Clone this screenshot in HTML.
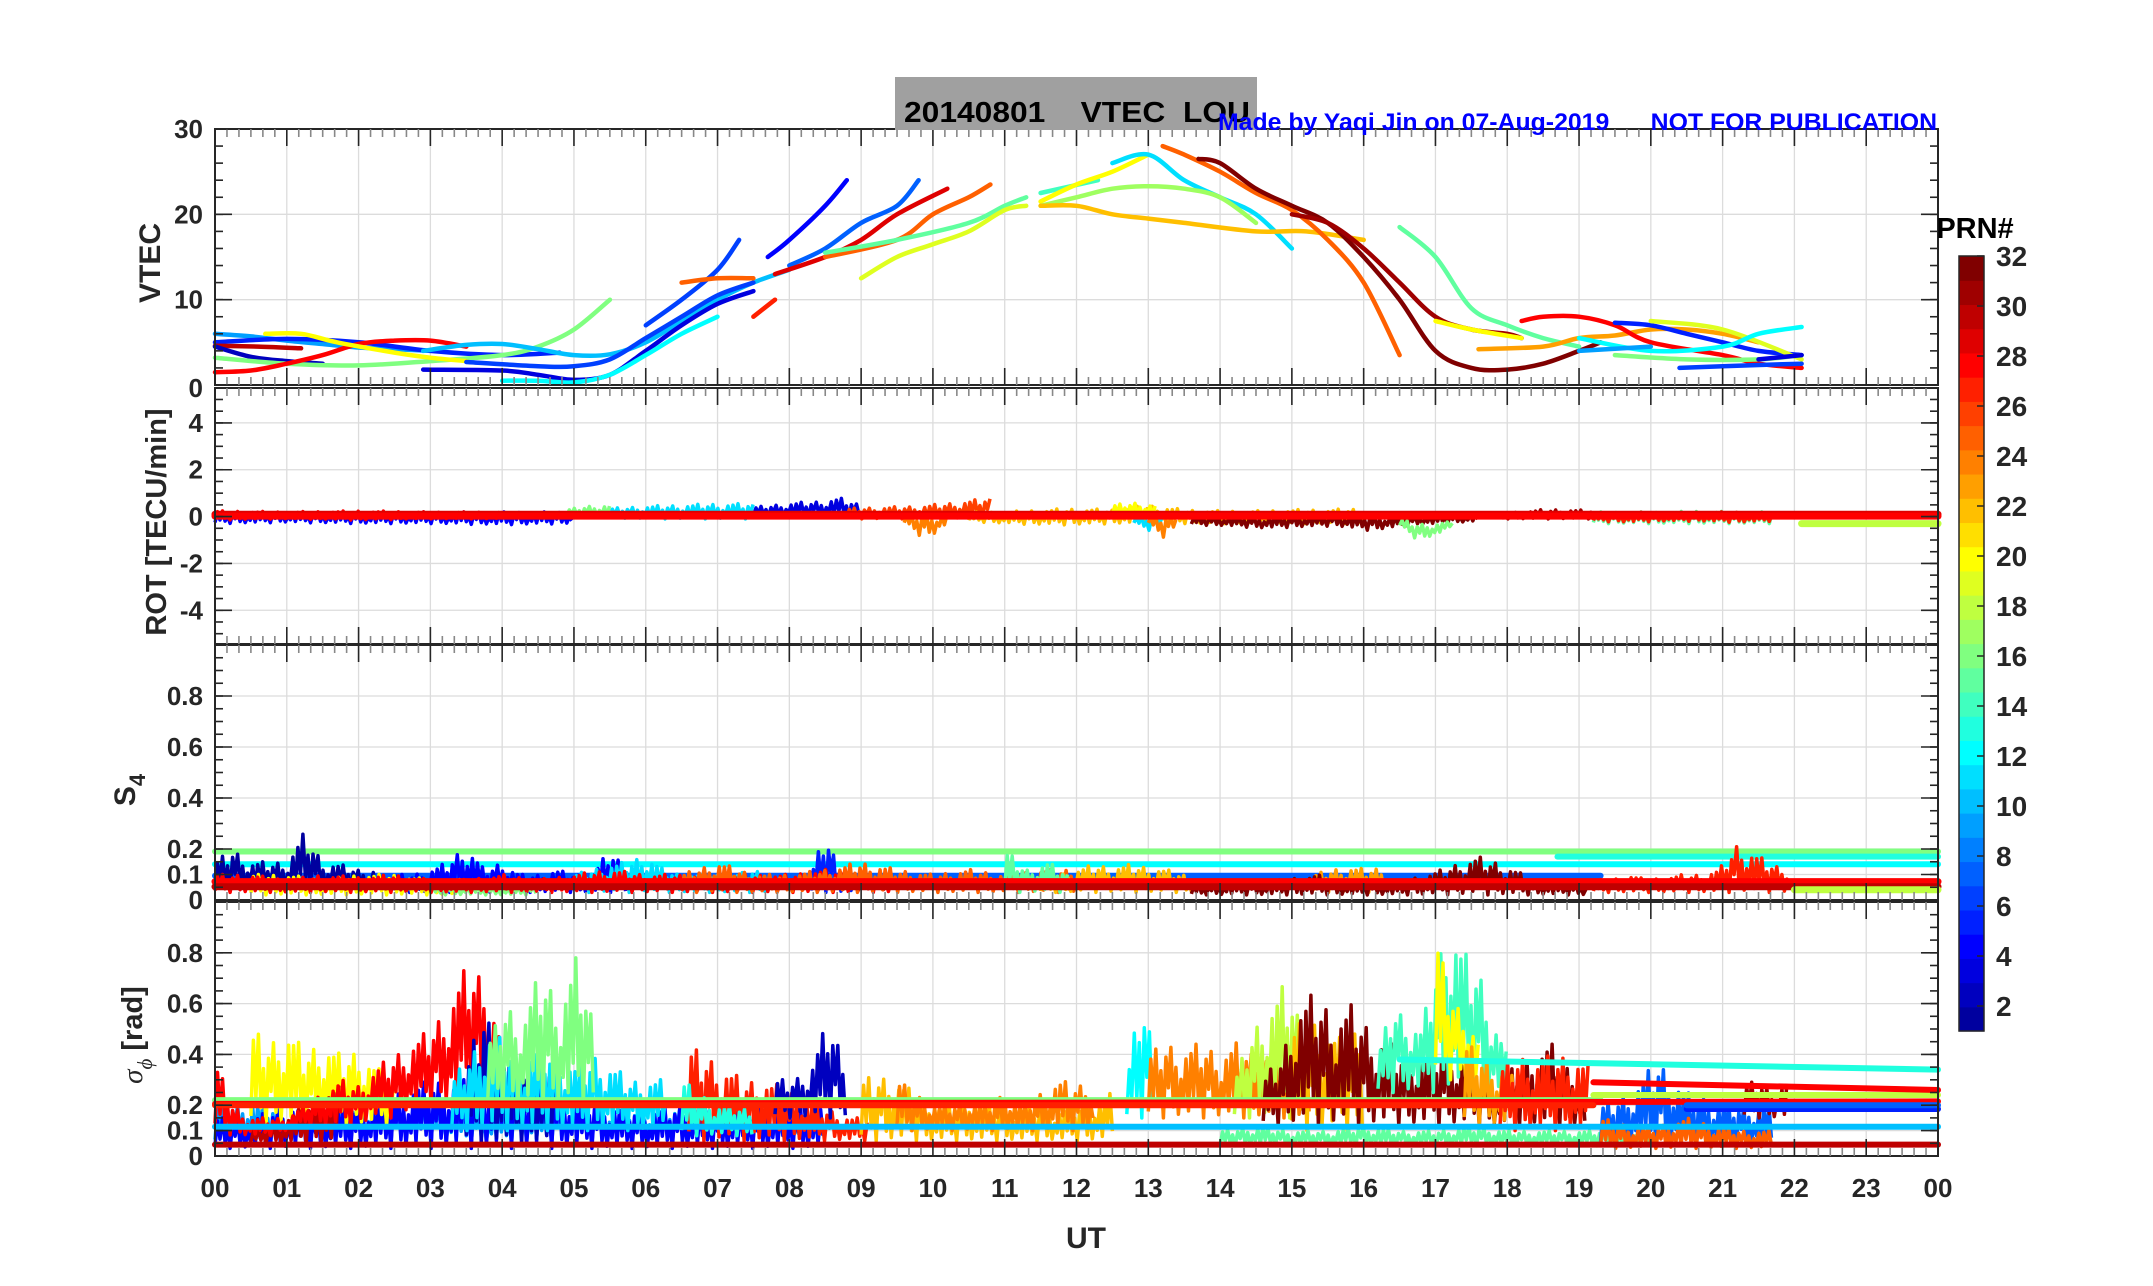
<!DOCTYPE html>
<html><head><meta charset="utf-8"><title>VTEC LOU 20140801</title>
<style>
html,body{margin:0;padding:0;background:#fff;}
svg{display:block;font-family:"Liberation Sans",Arial,sans-serif;}
</style></head>
<body>
<svg id="fig" width="2153" height="1286" viewBox="0 0 2153 1286" xmlns="http://www.w3.org/2000/svg">
<rect x="0" y="0" width="2153" height="1286" fill="#fff"/>
<g id="grid"></g>
<g id="series"></g>
<g id="axes"></g>
<rect x="895" y="77" width="362" height="53" fill="#a0a0a0"/>
<text x="904" y="122" font-size="29" font-weight="bold" fill="#000" textLength="346" lengthAdjust="spacingAndGlyphs" xml:space="preserve">20140801    VTEC  LOU</text>
<text x="1218" y="130" font-size="24" font-weight="bold" fill="#0000ff" textLength="719" lengthAdjust="spacingAndGlyphs" xml:space="preserve">Made by Yaqi Jin on 07-Aug-2019      NOT FOR PUBLICATION</text>
<text transform="translate(160,263) rotate(-90)" text-anchor="middle" font-size="30" font-weight="bold" fill="#262626">VTEC</text>
<text transform="translate(166,522) rotate(-90)" text-anchor="middle" font-size="29" font-weight="bold" fill="#262626">ROT [TECU/min]</text>
<text transform="translate(135,790) rotate(-90)" text-anchor="middle" font-size="30" font-weight="bold" fill="#262626">S<tspan font-size="22" dy="10">4</tspan></text>
<text transform="translate(142,1035) rotate(-90)" text-anchor="middle" font-size="29" font-weight="bold" fill="#262626"><tspan font-family="Liberation Serif,serif" font-style="italic" font-weight="normal">σ</tspan><tspan font-family="Liberation Serif,serif" font-style="italic" font-weight="normal" font-size="21" dy="10">ϕ</tspan><tspan dy="-10"> [rad]</tspan></text>
<text x="1086" y="1248" text-anchor="middle" font-size="30" font-weight="bold" fill="#262626">UT</text>
<text x="1975" y="238" text-anchor="middle" font-size="29" font-weight="bold" fill="#000">PRN#</text>
<g id="cbar"></g>
</svg>
<script>
// ---------- data ----------
const hourLabels = ["00","01","02","03","04","05","06","07","08","09","10","11","12","13","14","15","16","17","18","19","20","21","22","23","00"];
const vtecTicks = [0,10,20,30];
const rotTicks = [-4,-2,0,2,4];
const s4Ticks = [0,0.1,0.2,0.4,0.6,0.8];
const s4TickLabels = ["0","0.1","0.2","0.4","0.6","0.8"];
const prnTicks = [2,4,6,8,10,12,14,16,18,20,22,24,26,28,30,32];

// VTEC tracks: PRN, times (h), values (TECU)
const vtecPRN = [9,5,30,2,16,28,20,10,6,3,12,6,25,27,4,7,29,25,15,19,14,20,11,17,22,25,32,31,15,20,23,28,5,19,12,16,6,3,9];
const vtecT = [
 [0,0.5,1,1.5,2,2.5,3],
 [0,1,2,3,4,4.8],
 [0,0.6,1.2],
 [0,0.5,1,1.5],
 [0,1,2,3,4,4.5,5,5.5],
 [0,0.5,1,1.5,2,2.5,3,3.5],
 [0.7,1.2,1.7,2.5,3,3.5],
 [2.9,3.5,4,4.5,5,5.5,6,6.5,7,7.5,8],
 [3.5,4.5,5,5.5,6,6.5,7,7.5],
 [2.9,4,4.5,5,5.5,6,6.5,7,7.5],
 [4,4.5,5,5.5,6,6.5,7],
 [6,6.5,7,7.3],
 [6.5,7,7.5],
 [7.5,7.8],
 [7.7,8,8.5,8.8],
 [8,8.5,9,9.5,9.8],
 [7.8,8.5,9,9.5,10.2],
 [8.5,9.5,10,10.5,10.8],
 [8.5,9.5,10.5,11,11.3],
 [9,9.5,10,10.5,11,11.3],
 [11.5,12.3],
 [11.5,12,12.5,13],
 [12.5,13,13.5,14,14.5,15],
 [11.5,12,12.5,13,13.5,14,14.5],
 [11.5,12,12.5,13,13.5,14.5,15.2,16],
 [13.2,13.5,14,14.5,15,15.5,16,16.5],
 [13.7,14,14.5,15,15.5,16,16.5,17,17.5,18,18.5,19,19.3],
 [15,15.5,16,16.5,17,17.5,18,18.2],
 [16.5,17,17.5,18,18.5,19],
 [17,17.5,18.2],
 [17.6,18.5,19,19.5,20,20.5,21,21.5],
 [18.2,18.5,19,19.5,20,21,21.5,22.1],
 [19.5,20,20.5,21,21.5,22.1],
 [20,21,22.1],
 [19,20,21,21.5,22.1],
 [19.5,20.5,21.5,22.1],
 [20.4,21,22.1],
 [21.5,22.1],
 [19,20]
];
const vtecV = [
 [6,5.7,5.2,4.8,4.4,4.2,4],
 [5,5.4,5,4,3.5,3.8],
 [4.6,4.5,4.3],
 [4.5,3.3,2.8,2.5],
 [3.2,2.5,2.3,2.8,3.5,4.5,6.5,10],
 [1.5,1.7,2.5,3.5,4.8,5.2,5.2,4.5],
 [6,6,5,3.8,3.2,2.8],
 [4,4.7,4.8,4.2,3.5,3.6,5,7.5,10,12,13.5],
 [2.7,2.2,2.2,3,5.5,8,10.5,12],
 [1.8,1.7,1.2,0.6,1.2,4,7,9.5,11],
 [0.5,0.5,0.3,1.2,3.5,6,8],
 [7,10,13.5,17],
 [12,12.5,12.5],
 [8,10],
 [15,17,21,24],
 [14,16,19,21,24],
 [13,15,17,20,23],
 [15,17,20,22,23.5],
 [15.5,17,19,21,22],
 [12.5,15,16.5,18,20.5,21],
 [22.5,24],
 [21.5,23.5,25,27],
 [26,27,24,22,20,16],
 [21,22,23,23.3,23,22,19],
 [21,21,20,19.5,19,18,18,17],
 [28,27,25,22.5,20.5,17,12,3.5],
 [26.5,26,23,21,19,15,10,4,2,1.8,2.5,4,5],
 [20,19,16,12,8,6.5,6,5.5],
 [18.5,15,9,7,5.5,4.5],
 [7.5,6.5,5.5],
 [4.2,4.5,5.5,5.8,6.5,6.5,6,5],
 [7.5,8,8,7,5,3.5,2.5,2],
 [7.3,7,6,5,4,3.5],
 [7.5,6.5,3],
 [5.5,4,4.5,6,6.8],
 [3.5,3,3,3.5],
 [2,2.2,2.5],
 [3,3.5],
 [4,4.5]
];

// ROT noisy envelopes: PRN, start time, step, upper & lower values
const rotPRN = [4,28,16,11,3,26,24,22,20,11,24,32,16,31,15,27];
const rotT0 = [0,0,4.9,5.5,7.5,8.8,9.6,10.5,12.5,12.8,13,13.6,16.5,17.8,19.2,19.2];
const rotDt = [1,1,0.3,0.5,0.3,0.5,0.2,0.5,0.3,0.2,0.2,0.5,0.25,0.35,0.5,0.5];
const rotHi = [
 [0.2,0.2,0.2,0.2,0.2,0.2],[0.25,0.2,0.25,0.2,0.2],[0.3,0.45,0.5],[0.35,0.45,0.5,0.55,0.55],
 [0.4,0.5,0.6,0.65,0.8,0.5],[0.35,0.4,0.45,0.6,0.8],[0.1,0.1,0.1,0.1],
 [0.2,0.2,0.3,0.35,0.3,0.5,0.3,0.25,0.25,0.3,0.3,0.35],[0.5,0.6,0.5],[0,0,0],[0,0,0],
 [0,0,0,0.05,0.1,0.05,0.05,0.1,0.1],[-0.1,-0.3,-0.3,-0.2],[0.1,0.2,0.3,0.3,0.25],
 [0.2,0.2,0.2,0.25,0.2,0.2],[0.15,0.2,0.15,0.2,0.2,0.15]
];
const rotLo = [
 [-0.3,-0.25,-0.3,-0.3,-0.35,-0.3],[-0.15,-0.1,-0.15,-0.1,-0.1],[0,0,0],[-0.05,-0.1,-0.1,-0.1,-0.1],
 [0,0,0,0,0,0],[-0.1,-0.1,-0.1,-0.1,0],[-0.3,-0.8,-0.8,-0.3],
 [-0.2,-0.3,-0.35,-0.35,-0.3,-0.3,-0.3,-0.3,-0.3,-0.3,-0.3,-0.3],[0,0,0],[-0.3,-0.6,-0.3],[-0.3,-0.9,-0.4],
 [-0.35,-0.4,-0.5,-0.45,-0.4,-0.6,-0.4,-0.3,-0.2],[-0.4,-1.0,-0.8,-0.4],[-0.1,-0.1,-0.1,-0.1,-0.1],
 [-0.3,-0.3,-0.3,-0.3,-0.3,-0.3],[-0.2,-0.25,-0.2,-0.2,-0.25,-0.2]
];
const rotLinePRN = [18,29,28];
const rotLineT = [[22.1,24],[0,24],[0,24]];
const rotLineV = [[-0.3,-0.3],[0.1,0.1],[0.02,0.02]];

// S4 noisy envelopes
const s4PRN = [1,4,11,5,20,16,28,25,22,15,23,32,27];
const s4T0 = [0,2.5,5,8.3,0.5,3,0,6.5,11.5,11,15.3,13.6,19.2];
const s4Dt = [0.25,0.25,0.25,0.2,0.5,0.5,0.5,0.5,0.25,0.3,0.25,0.25,0.25];
const s4Hi = [
 [0.15,0.2,0.15,0.15,0.15,0.27,0.15,0.14,0.12,0.12],
 [0.1,0.1,0.12,0.15,0.22,0.12,0.15,0.1,0.1,0.12,0.1,0.1,0.2,0.12],
 [0.1,0.12,0.14,0.15,0.18,0.12,0.1,0.1,0.1,0.1,0.12,0.1],
 [0.1,0.27,0.12,0.1],
 [0.1,0.1,0.08,0.1,0.1,0.08,0.08],
 [0.06,0.06,0.05,0.06],
 [0.1,0.1,0.08,0.1,0.09,0.1,0.08,0.08,0.1,0.08,0.1,0.12,0.1,0.1,0.1,0.1,0.1,0.12,0.1,0.1],
 [0.1,0.15,0.1,0.1,0.12,0.15,0.12,0.1,0.12,0.1,0.12,0.12],
 [0.08,0.1,0.12,0.14,0.13,0.14,0.13,0.12,0.1,0.08],
 [0.2,0.12,0.15,0.1],
 [0.1,0.12,0.13,0.12,0.13],
 [0.06,0.06,0.07,0.08,0.07,0.08,0.09,0.1,0.08,0.07,0.08,0.07,0.08,0.1,0.12,0.15,0.17,0.15,0.12,0.08,0.08,0.07,0.06],
 [0.08,0.08,0.1,0.08,0.09,0.1,0.1,0.12,0.22,0.18,0.14,0.12]
];
const s4Lo = [
 [0.04,0.04,0.04,0.04,0.04,0.04,0.04,0.04,0.04,0.04],
 [0.03,0.03,0.03,0.03,0.03,0.03,0.03,0.03,0.03,0.03,0.03,0.03,0.03,0.03],
 [0.03,0.03,0.03,0.03,0.03,0.03,0.03,0.03,0.03,0.03,0.03,0.03],
 [0.03,0.03,0.03,0.03],
 [0.02,0.02,0.02,0.02,0.02,0.02,0.02],
 [0.02,0.02,0.02,0.02],
 [0.03,0.03,0.03,0.03,0.03,0.03,0.03,0.03,0.03,0.03,0.03,0.03,0.03,0.03,0.03,0.03,0.03,0.03,0.03,0.03],
 [0.03,0.03,0.03,0.03,0.03,0.03,0.03,0.03,0.03,0.03,0.03,0.03],
 [0.03,0.03,0.03,0.03,0.03,0.03,0.03,0.03,0.03,0.03],
 [0.03,0.03,0.03,0.03],
 [0.03,0.03,0.03,0.03,0.03],
 [0.02,0.02,0.02,0.02,0.02,0.02,0.02,0.02,0.02,0.02,0.02,0.02,0.02,0.02,0.02,0.02,0.02,0.02,0.02,0.02,0.02,0.02,0.02],
 [0.03,0.03,0.03,0.03,0.03,0.03,0.03,0.03,0.03,0.03,0.03,0.03]
];
const s4LinePRN = [16,12,13,7,28,30,18];
const s4LineT = [[0,24],[0,24],[18.7,24],[0,19.3],[0,24],[0,24],[22,24]];
const s4LineV = [[0.19,0.19],[0.14,0.14],[0.17,0.17],[0.095,0.095],[0.072,0.072],[0.052,0.052],[0.04,0.04]];

// sigma-phi noisy envelopes
const sgPRN = [9,4,20,30,28,2,11,16,27,2,13,22,24,12,24,18,22,32,14,20,23,27,15,7,25,31];
const sgT0 = [0,0,0.5,0.5,0,3.5,3.3,3.8,6.6,7.8,6.5,9,9.5,12.7,13,14.2,15,14.6,16.2,17,17.4,17.9,14,19.3,19.3,21.3];
const sgDt = [0.5,0.5,0.25,0.25,0.25,0.25,0.25,0.25,0.25,0.25,0.25,0.25,0.25,0.2,0.25,0.25,0.25,0.25,0.2,0.15,0.25,0.25,0.5,0.4,0.4,0.2];
const sgHi = [
 [0.2,0.22,0.18,0.2,0.2,0.22,0.25,0.2,0.2,0.22,0.2,0.2,0.18,0.2,0.2,0.18,0.15,0.15],
 [0.15,0.15,0.2,0.18,0.2,0.25,0.3,0.3,0.35,0.3,0.25,0.2,0.18,0.2,0.2,0.2,0.2,0.2],
 [0.5,0.45,0.5,0.42,0.45,0.4,0.42,0.35,0.3],
 [0.1,0.12,0.15,0.2,0.25,0.28],
 [0.38,0.2,0.15,0.15,0.15,0.2,0.25,0.3,0.28,0.35,0.4,0.45,0.5,0.6,0.75,0.72,0.45],
 [0.35,0.6,0.4,0.35,0.4,0.3],
 [0.3,0.4,0.5,0.45,0.4,0.45,0.4,0.35,0.4,0.35,0.3,0.3,0.3],
 [0.45,0.6,0.55,0.75,0.6,0.8,0.5],
 [0.43,0.4,0.35,0.3,0.3,0.28,0.25,0.2,0.18,0.15,0.15],
 [0.3,0.3,0.35,0.55,0.35],
 [0.3,0.25,0.2,0.2,0.18],
 [0.3,0.32,0.3,0.25,0.2,0.2,0.22,0.2,0.2,0.18,0.2,0.18,0.2,0.22,0.25],
 [0.3,0.25,0.2,0.2,0.22,0.2,0.25,0.2,0.25,0.3,0.28,0.3],
 [0.3,0.65,0.4],
 [0.4,0.45,0.42,0.45,0.4,0.45,0.4,0.42,0.45,0.4],
 [0.3,0.5,0.6,0.7,0.45],
 [0.5,0.55,0.5,0.45,0.55],
 [0.3,0.4,0.6,0.65,0.55,0.6,0.5,0.45,0.4,0.4,0.45,0.4,0.35,0.3,0.35,0.4,0.45,0.35,0.3],
 [0.4,0.6,0.55,0.5,0.75,0.95,0.8,0.75,0.55,0.4],
 [0.9,0.7,0.6,0.55,0.45],
 [0.45,0.4,0.35,0.3],
 [0.35,0.4,0.38,0.4,0.4,0.35],
 [0.1,0.12,0.1,0.1,0.12,0.1,0.1,0.12,0.1,0.1,0.1,0.1,0.1],
 [0.2,0.25,0.38,0.25,0.22,0.2,0.2],
 [0.15,0.12,0.12,0.15,0.12,0.1,0.1],
 [0.28,0.3,0.25,0.3]
];
const sgLo = [
 [0.05,0.05,0.05,0.05,0.05,0.05,0.05,0.05,0.05,0.05,0.05,0.05,0.05,0.05,0.05,0.05,0.05,0.05],
 [0.03,0.03,0.03,0.03,0.03,0.03,0.03,0.03,0.03,0.03,0.03,0.03,0.03,0.03,0.03,0.03,0.03,0.03],
 [0.12,0.12,0.12,0.12,0.12,0.12,0.12,0.12,0.12],
 [0.05,0.05,0.05,0.05,0.05,0.05],
 [0.1,0.08,0.08,0.08,0.1,0.12,0.12,0.12,0.12,0.15,0.15,0.18,0.2,0.2,0.25,0.25,0.2],
 [0.05,0.05,0.05,0.05,0.05,0.05],
 [0.1,0.1,0.1,0.1,0.1,0.1,0.1,0.1,0.1,0.1,0.1,0.1,0.1],
 [0.2,0.2,0.2,0.2,0.2,0.2,0.2],
 [0.06,0.06,0.06,0.06,0.06,0.06,0.06,0.06,0.06,0.06,0.06],
 [0.15,0.15,0.15,0.15,0.15],
 [0.08,0.08,0.08,0.08,0.08],
 [0.06,0.06,0.06,0.06,0.06,0.06,0.06,0.06,0.06,0.06,0.06,0.06,0.06,0.06,0.06],
 [0.1,0.1,0.1,0.1,0.1,0.1,0.1,0.1,0.1,0.1,0.1,0.1],
 [0.15,0.15,0.15],
 [0.15,0.15,0.15,0.15,0.15,0.15,0.15,0.15,0.15,0.15],
 [0.15,0.15,0.15,0.15,0.15],
 [0.1,0.1,0.1,0.1,0.1],
 [0.12,0.12,0.12,0.12,0.12,0.12,0.12,0.12,0.12,0.12,0.12,0.12,0.12,0.12,0.12,0.12,0.12,0.12,0.12],
 [0.25,0.25,0.25,0.25,0.25,0.25,0.25,0.25,0.25,0.25],
 [0.3,0.3,0.3,0.3,0.3],
 [0.12,0.12,0.12,0.12],
 [0.1,0.1,0.1,0.1,0.1,0.1],
 [0.04,0.04,0.04,0.04,0.04,0.04,0.04,0.04,0.04,0.04,0.04,0.04,0.04],
 [0.04,0.04,0.04,0.04,0.04,0.04,0.04],
 [0.03,0.03,0.03,0.03,0.03,0.03,0.03],
 [0.15,0.15,0.15,0.15]
];
const sgLinePRN = [16,28,30,10,13,18,5,7,28,27];
const sgLineT = [[0,19.3],[0,24],[0,24],[0,24],[16.5,24],[19.2,24],[20.5,24],[20.5,24],[19.2,24],[0,19.2]];
const sgLineV = [[0.22,0.22],[0.205,0.215],[0.045,0.045],[0.115,0.115],[0.38,0.34],[0.24,0.24],[0.185,0.185],[0.2,0.2],[0.29,0.26],[0.2,0.2]];

// ---------- geometry / scales ----------
const XL = 215, XR = 1938;
const xs = t => XL + (XR - XL) * t / 24;
const panels = {
  vtec: {top:129, bot:385, min:0, max:30},
  rot:  {top:388, bot:644, min:-5.44, max:5.49},
  s4:   {top:645, bot:900, min:0, max:1},
  sg:   {top:902, bot:1156, min:0, max:1}
};
const ys = (p, v) => p.bot - (v - p.min) / (p.max - p.min) * (p.bot - p.top);

function jet(i){ // MATLAB jet(32), i = 1..32
  const u = [];
  for (let k=1;k<=8;k++) u.push(k/8);
  for (let k=0;k<7;k++) u.push(1);
  for (let k=8;k>=1;k--) u.push(k/8);
  const g = (idx)=> (idx>=1 && idx<=23) ? u[idx-1] : 0;
  const r = g(i-12), gr = g(i-4), b = g(i+4);
  return `rgb(${Math.round(r*255)},${Math.round(gr*255)},${Math.round(b*255)})`;
}
const NS = "http://www.w3.org/2000/svg";
function mk(tag, attrs, parent){
  const e = document.createElementNS(NS, tag);
  for (const k in attrs) e.setAttribute(k, attrs[k]);
  parent.appendChild(e); return e;
}
const G = document.getElementById('grid');
const S = document.getElementById('series');
const A = document.getElementById('axes');
const CB = document.getElementById('cbar');

// ---------- grid ----------
const gridY = {vtec:[10,20], rot:[-4,-2,0,2,4], s4:[0.1,0.2,0.4,0.6,0.8], sg:[0.1,0.2,0.4,0.6,0.8]};
for (const key in panels){
  const p = panels[key];
  for (let h=1; h<24; h++){
    const gl = mk('line',{x1:xs(h),x2:xs(h),y1:p.top,y2:p.bot,stroke:'#dcdcdc','stroke-width':1.3},G);
    
    
  }
  gridY[key].forEach(v=>{
    const gl = mk('line',{x1:XL,x2:XR,y1:ys(p,v),y2:ys(p,v),stroke:'#dcdcdc','stroke-width':1.3},G);
    
    
  });
}

// ---------- series ----------
const PAT = [0.1,0.9,0.3,1,0.2,0.65,0,0.8,0.4,0.95,0.15,0.7,0.05,0.55,0.25,0.85];
function noisy(p, prn, t0, dt, hi, lo, name, w){
  const n = hi.length;
  const tEnd = t0 + dt*(n-1);
  const step = 0.035;
  let pts = [], j = 0;
  for (let t=t0; t<=tEnd+1e-9; t+=step, j++){
    const f = (t - t0)/dt;
    const k = Math.min(Math.floor(f), n-2 < 0 ? 0 : n-2);
    const fr = n>1 ? f - k : 0;
    const h = n>1 ? hi[k] + (hi[k+1]-hi[k])*fr : hi[0];
    const l = n>1 ? lo[k] + (lo[k+1]-lo[k])*fr : lo[0];
    const v = l + (h - l) * PAT[j % PAT.length];
    pts.push(xs(t).toFixed(1)+','+ys(p,v).toFixed(1));
  }
  const pl = mk('polyline',{points:pts.join(' '),fill:'none',stroke:jet(prn),'stroke-width':w||3.5,'stroke-linejoin':'round'},S);
  
  
}
function seg(p, prn, ts, vs, name, w){
  const pts = ts.map((t,i)=> xs(t).toFixed(1)+','+ys(p,vs[i]).toFixed(1));
  const pl = mk('polyline',{points:pts.join(' '),fill:'none',stroke:jet(prn),'stroke-width':w,'stroke-linejoin':'round','stroke-linecap':'round'},S);
  
  
}
function smooth(p, prn, ts, vs, name, w){
  const P = ts.map((t,i)=>[xs(t), ys(p,vs[i])]);
  let d = 'M'+P[0][0].toFixed(1)+','+P[0][1].toFixed(1);
  for (let i=0;i<P.length-1;i++){
    const p0 = P[i-1]||P[i], p1=P[i], p2=P[i+1], p3=P[i+2]||P[i+1];
    const c1 = [p1[0]+(p2[0]-p0[0])/6, p1[1]+(p2[1]-p0[1])/6];
    const c2 = [p2[0]-(p3[0]-p1[0])/6, p2[1]-(p3[1]-p1[1])/6];
    d += ` C${c1[0].toFixed(1)},${c1[1].toFixed(1)} ${c2[0].toFixed(1)},${c2[1].toFixed(1)} ${p2[0].toFixed(1)},${p2[1].toFixed(1)}`;
  }
  const pa = mk('path',{d:d,fill:'none',stroke:jet(prn),'stroke-width':w,'stroke-linecap':'round'},S);
  
  
}
// VTEC
vtecPRN.forEach((prn,i)=> smooth(panels.vtec, prn, vtecT[i], vtecV[i], 'vtec-track-prn'+prn, 4.5));
// ROT
rotPRN.forEach((prn,i)=> noisy(panels.rot, prn, rotT0[i], rotDt[i], rotHi[i], rotLo[i], 'rot-trace-prn'+prn, 3.5));
rotLinePRN.forEach((prn,i)=> seg(panels.rot, prn, rotLineT[i], rotLineV[i], 'rot-line-prn'+prn, 7));
// S4
s4LinePRN.slice(0,4).forEach((prn,i)=> seg(panels.s4, prn, s4LineT[i], s4LineV[i], 's4-line-prn'+prn, 6));
s4PRN.forEach((prn,i)=> noisy(panels.s4, prn, s4T0[i], s4Dt[i], s4Hi[i], s4Lo[i], 's4-trace-prn'+prn, 3.5));
s4LinePRN.slice(4).forEach((prn,j)=>{ const i=j+4; seg(panels.s4, prn, s4LineT[i], s4LineV[i], 's4-line-prn'+prn, 7); });
// sigma-phi
sgPRN.forEach((prn,i)=> noisy(panels.sg, prn, sgT0[i], sgDt[i], sgHi[i], sgLo[i], 'sigma-trace-prn'+prn, 3.5));
sgLinePRN.forEach((prn,i)=> seg(panels.sg, prn, sgLineT[i], sgLineV[i], 'sigma-line-prn'+prn, 6));

// ---------- axes ----------
const axCol = '#262626';
const yMinor = {vtec:2, rot:0.5, s4:0.05, sg:0.05};
const yMajorVals = {vtec:vtecTicks, rot:rotTicks, s4:s4Ticks, sg:s4Ticks};
const yMajorLab = {vtec:vtecTicks.map(String), rot:rotTicks.map(String), s4:s4TickLabels, sg:s4TickLabels};
for (const key in panels){
  const p = panels[key];
  const box = mk('rect',{x:XL,y:p.top,width:XR-XL,height:p.bot-p.top,fill:'none',stroke:axCol,'stroke-width':2},A);
  
  
  for (let m=1; m<144; m++){
    const x = xs(m/6), major = (m%6===0);
    const L = major?17:8, c = major?axCol:'#888';
    mk('line',{x1:x,x2:x,y1:p.top,y2:p.top+L,stroke:c,'stroke-width':1.6},A);
    mk('line',{x1:x,x2:x,y1:p.bot,y2:p.bot-L,stroke:c,'stroke-width':1.6},A);
  }
  const st = yMinor[key];
  for (let v=Math.ceil(p.min/st)*st; v<=p.max+1e-9; v+=st){
    const y = ys(p,v);
    mk('line',{x1:XL,x2:XL+8,y1:y,y2:y,stroke:axCol,'stroke-width':1.6},A);
    mk('line',{x1:XR,x2:XR-8,y1:y,y2:y,stroke:axCol,'stroke-width':1.6},A);
  }
  yMajorVals[key].forEach((v,i)=>{
    const y = ys(p,v);
    mk('line',{x1:XL,x2:XL+17,y1:y,y2:y,stroke:axCol,'stroke-width':1.6},A);
    mk('line',{x1:XR,x2:XR-17,y1:y,y2:y,stroke:axCol,'stroke-width':1.6},A);
    let ty = y + 9;
    if (key==='vtec' && v===0) ty = y + 12;
    const lab = mk('text',{x:203,y:ty,'text-anchor':'end','font-size':26,'font-weight':'bold',fill:axCol},A);
    lab.textContent = yMajorLab[key][i];
    
    
  });
}
hourLabels.forEach((s,i)=>{
  const t = mk('text',{x:xs(i),y:1197,'text-anchor':'middle','font-size':26,'font-weight':'bold',fill:axCol},A);
  t.textContent = s;
  
  
});

// ---------- colorbar ----------
const CBX = 1959, CBW = 25, CBT = 256, CBB = 1031;
const cbH = (CBB - CBT)/32;
for (let i=1;i<=32;i++){
  const r = mk('rect',{x:CBX,y:CBB - i*cbH,width:CBW,height:cbH+0.6,fill:jet(i)},CB);
  
  
}
mk('rect',{x:CBX,y:CBT,width:CBW,height:CBB-CBT,fill:'none',stroke:axCol,'stroke-width':1.5},CB);
const cbY = v => CBB - (v-1)/31*(CBB-CBT);
prnTicks.forEach(v=>{
  const y = cbY(v);
  mk('line',{x1:CBX+CBW-7,x2:CBX+CBW,y1:y,y2:y,stroke:axCol,'stroke-width':1.5},CB);
  const t = mk('text',{x:1996,y:y+10,'font-size':28,'font-weight':'bold',fill:axCol},CB);
  t.textContent = String(v);
  
  
});
</script>
</body></html>
